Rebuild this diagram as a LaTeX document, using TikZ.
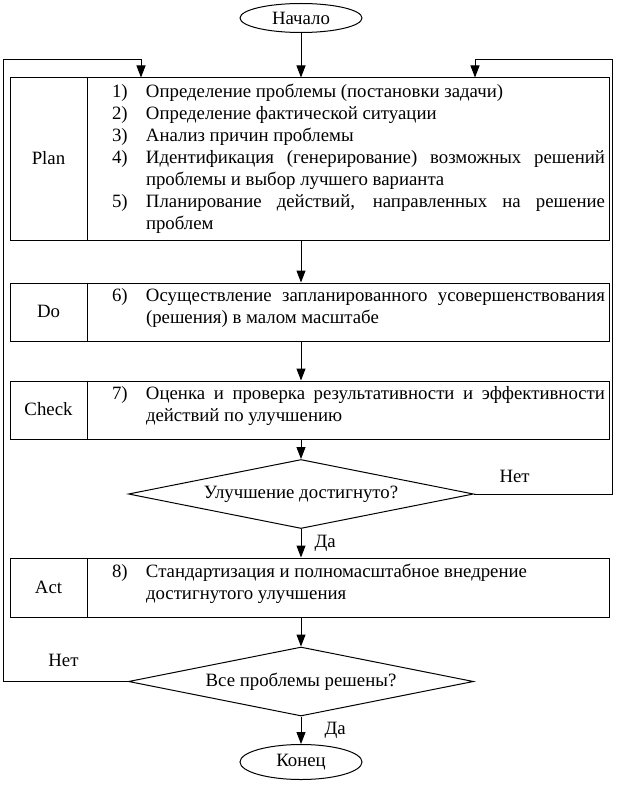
\documentclass[tikz,border=0pt]{standalone}
\usepackage{fontspec}
\setmainfont{Liberation Serif}
\usepackage{array}
\usetikzlibrary{shapes.geometric,arrows.meta,positioning}
\hyphenpenalty=10000
\newcommand{\steps}[1]{\begin{tabular}{@{}p{34pt}@{}p{459pt}@{}}#1\end{tabular}}

\begin{document}
\begin{tikzpicture}[x=1pt, y=-1pt, line width=1pt, >={Triangle[length=12pt,width=9pt]},
    font=\fontsize{18.8}{22}\selectfont,
    term/.style={draw, ellipse, minimum width=122pt, minimum height=29pt, inner sep=0pt},
    stage/.style={draw, rectangle, minimum width=599pt, inner sep=0pt},
    decision/.style={draw, diamond, aspect=5, minimum width=345pt, minimum height=69pt, inner sep=0pt},
    tag/.style={inner sep=0pt},
    items/.style={anchor=north west, inner sep=0pt},
    lbl/.style={inner sep=1pt}]
    \useasboundingbox (0,0) rectangle (627,797);
    % Start
    \node[term] (start) at (301,18) {Начало};
    % Plan
    \node[stage, minimum height=162pt] (plan) at (309.5,159) {};
    \node[tag] at ([xshift=39pt,yshift=1pt]plan.west) {Plan};
    \draw ([xshift=78pt]plan.north west) -- ([xshift=78pt]plan.south west);
    \node[items] at ([xshift=102pt,yshift=-4pt]plan.north west) {\steps{%
        1) & Определение проблемы (постановки задачи)\\
        2) & Определение фактической ситуации\\
        3) & Анализ причин проблемы\\
        4) & Идентификация (генерирование) возможных решений\linebreak проблемы и выбор лучшего варианта\\
        5) & Планирование действий, направленных на решение\linebreak проблем}};
    % Do
    \node[stage, minimum height=58pt] (do) at (309.5,312) {};
    \node[tag] at ([xshift=39pt,yshift=1pt]do.west) {Do};
    \draw ([xshift=78pt]do.north west) -- ([xshift=78pt]do.south west);
    \node[items] at ([xshift=102pt,yshift=-3pt]do.north west) {\steps{%
        6) & Осуществление запланированного усовершенствования\linebreak (решения) в малом масштабе}};
    % Check
    \node[stage, minimum height=58pt] (check) at (309.5,410) {};
    \node[tag] at ([xshift=39pt,yshift=1pt]check.west) {Check};
    \draw ([xshift=78pt]check.north west) -- ([xshift=78pt]check.south west);
    \node[items] at ([xshift=102pt,yshift=-3pt]check.north west) {\steps{%
        7) & Оценка и проверка результативности и эффективности\linebreak действий по улучшению}};
    % Question 1
    \node[decision] (q1) at (301,494) {Улучшение достигнуто?};
    % Act
    \node[stage, minimum height=59pt] (act) at (309.5,587.5) {};
    \node[tag] at ([xshift=39pt]act.west) {Act};
    \draw ([xshift=78pt]act.north west) -- ([xshift=78pt]act.south west);
    \node[items] at ([xshift=102pt,yshift=-4pt]act.north west) {\steps{%
        8) & Стандартизация и полномасштабное внедрение\newline достигнутого улучшения}};
    % Question 2
    \node[decision] (q2) at (301,681.5) {Все проблемы решены?};
    % End
    \node[term, minimum height=35pt] (end) at (301,762) {Конец};
    % Arrows
    \coordinate (loopl) at (3,60);
    \coordinate (loopr) at (612,60);
    \draw[->] (start) -- (start |- plan.north);
    \draw[->] (plan.south -| start) -- (do.north -| start);
    \draw[->] (do.south -| start) -- (check.north -| start);
    \draw[->] (check.south -| start) -- (q1);
    \draw[->] (q1) -- node[lbl, right=12pt] {Да} (act.north -| q1);
    \draw[->] (act.south -| q2) -- (q2);
    \draw[->] (q2) -- node[lbl, right=22pt] {Да} (end);
    \draw[->] (q1.east) -| (loopr) -| ([xshift=165.5pt]plan.north);
    \draw[->] (q2.west) -| (loopl) -| ([xshift=-168.5pt]plan.north);
    \node[lbl, above right=10pt and 24pt of q1.east] {Нет};
    \node[lbl, above left=13pt and 48pt of q2.west] {Нет};
\end{tikzpicture}
\end{document}
